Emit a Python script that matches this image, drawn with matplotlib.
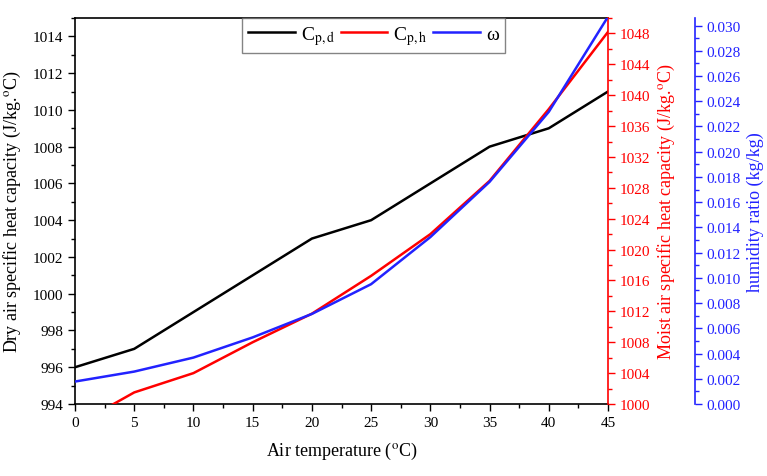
import numpy as np
import matplotlib.pyplot as plt
from matplotlib.ticker import MultipleLocator

plt.rcParams['font.family'] = ['Liberation Serif', 'DejaVu Serif']
plt.rcParams['mathtext.fontset'] = 'stix'

# data
temp = [0, 5, 10, 15, 20, 25, 30, 35, 40, 45]
cp_dry = [996, 997, 999, 1001, 1003, 1004, 1006, 1008, 1009, 1011]
cp_moist = [997.2, 1001.5, 1004.0, 1008.0, 1011.7, 1016.6, 1022.0, 1028.9, 1038.2, 1048.2]
omega = [0.00178, 0.00257, 0.00368, 0.00528, 0.00714, 0.00950, 0.01323, 0.01761, 0.02316, 0.0307]

red = '#ff0000'
blue = '#2222ff'

fig = plt.figure(figsize=(7.67, 4.77), dpi=100)
ax = fig.add_axes([75 / 767, 72 / 477, 533 / 767, 386 / 477])
ax2 = ax.twinx()
ax3 = ax.twinx()

l1, = ax.plot(temp, cp_dry, color='black', lw=1.8, label=r'C$_{\mathrm{p,d}}$')
l2, = ax2.plot(temp, cp_moist, color=red, lw=1.8, label=r'C$_{\mathrm{p,h}}$')
l3, = ax3.plot(temp, omega, color=blue, lw=1.8, label='ω')

ax.set_xlim(0, 45)
ax.set_ylim(994, 1015)
ax2.set_ylim(1000, 1050)
ax3.set_ylim(0, 0.0306)

ax.xaxis.set_major_locator(MultipleLocator(5))
ax.xaxis.set_minor_locator(MultipleLocator(2.5))
ax.yaxis.set_major_locator(MultipleLocator(2))
ax.yaxis.set_minor_locator(MultipleLocator(1))
ax2.yaxis.set_major_locator(MultipleLocator(4))
ax2.yaxis.set_minor_locator(MultipleLocator(2))
ax3.yaxis.set_major_locator(MultipleLocator(0.002))
ax3.yaxis.set_minor_locator(MultipleLocator(0.001))
ax3.yaxis.set_major_formatter(plt.FormatStrFormatter('%.3f'))

ax.tick_params(which='major', length=5, width=1, labelsize=11)
ax.tick_params(which='minor', length=3, width=1)
ax2.tick_params(which='major', length=5, width=1, labelsize=11, colors=red)
ax2.tick_params(which='minor', length=3, width=1, colors=red)
ax3.tick_params(which='major', length=5, width=1, labelsize=11, colors=blue)
ax3.tick_params(which='minor', length=3, width=1, colors=blue)

for sp in ax.spines.values():
    sp.set_linewidth(1.2)
ax2.spines['right'].set_color(red)
ax2.spines['right'].set_linewidth(1.2)
ax3.spines['right'].set_position(('outward', 62.6))
ax3.spines['right'].set_color(blue)
ax3.spines['right'].set_linewidth(1.2)
for a in (ax2, ax3):
    for s in ('left', 'top', 'bottom'):
        a.spines[s].set_visible(False)
ax.spines['right'].set_visible(False)

ax.set_xlabel(r'Air temperature ($^{\mathrm{o}}$C)', fontsize=13, labelpad=8)
ax.set_ylabel(r'Dry air specific heat capacity (J/kg.$^{\mathrm{o}}$C)', fontsize=13, labelpad=7)
ax2.set_ylabel(r'Moist air specific heat capacity (J/kg.$^{\mathrm{o}}$C)', fontsize=13, color=red, labelpad=4)
ax3.set_ylabel('humidity ratio (kg/kg)', fontsize=13, color=blue, labelpad=4)

leg = ax.legend(handles=[l1, l2, l3], loc='upper center', bbox_to_anchor=(0.56, 1.0),
                ncol=3, fontsize=14, frameon=True, fancybox=False, edgecolor='#666666',
                handlelength=2.4, handletextpad=0.3, columnspacing=0.3,
                borderpad=0.3, borderaxespad=0)
leg.get_frame().set_linewidth(1.0)

plt.savefig('out.png', dpi=100)
